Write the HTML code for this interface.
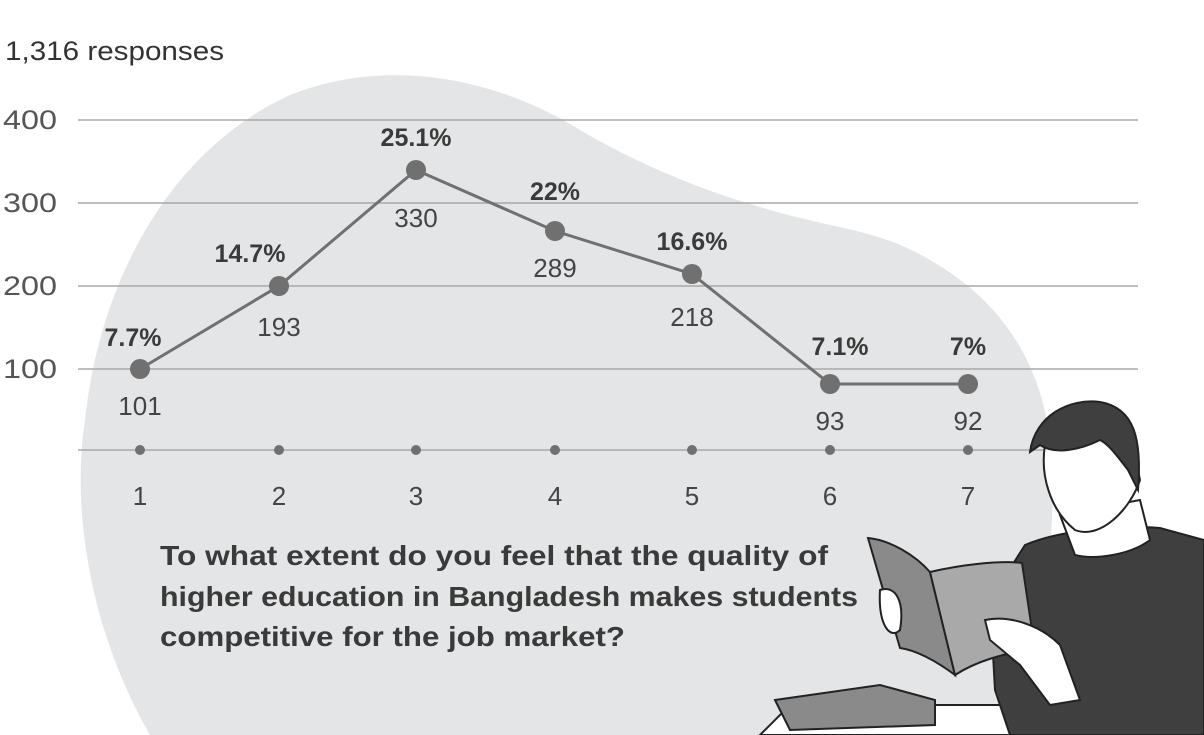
<!DOCTYPE html>
<html><head><style>
html,body{margin:0;padding:0;background:#fff;}
body{width:1204px;height:735px;overflow:hidden;position:relative;font-family:"Liberation Sans",sans-serif;}
</style></head><body>
<svg width="1204" height="735" viewBox="0 0 1204 735" xmlns="http://www.w3.org/2000/svg" style="position:absolute;left:0;top:0">
<path d="M150,735 C95,640 70,520 85,420 C100,280 170,150 290,95 C390,55 500,80 580,130 C640,165 700,190 770,210 C840,230 880,230 930,260 C1000,300 1040,360 1050,440 C1060,540 1040,640 1010,735 Z" fill="#e4e5e6"/>
<g stroke="#a8a8a8" stroke-width="1.5">
<line x1="78" y1="120" x2="1138" y2="120"/>
<line x1="78" y1="203" x2="1138" y2="203"/>
<line x1="78" y1="286" x2="1138" y2="286"/>
<line x1="78" y1="369" x2="1138" y2="369"/>
<line x1="78" y1="450" x2="1045" y2="450"/>
</g>
<g font-size="27" fill="#555">
<text x="5" y="60" fill="#333" textLength="219" lengthAdjust="spacingAndGlyphs">1,316 responses</text>
<text x="3" y="129" textLength="54" lengthAdjust="spacingAndGlyphs">400</text>
<text x="3" y="212" textLength="54" lengthAdjust="spacingAndGlyphs">300</text>
<text x="3" y="295" textLength="54" lengthAdjust="spacingAndGlyphs">200</text>
<text x="3" y="378" textLength="54" lengthAdjust="spacingAndGlyphs">100</text>
</g>
<polyline points="140,369 279,286 416,170 555,231 692,274 830,384 968,384" fill="none" stroke="#707070" stroke-width="3"/>
<g fill="#707070">
<circle cx="140" cy="369" r="10"/><circle cx="279" cy="286" r="10"/><circle cx="416" cy="170" r="10"/><circle cx="555" cy="231" r="10"/><circle cx="692" cy="274" r="10"/><circle cx="830" cy="384" r="10"/><circle cx="968" cy="384" r="10"/>
<circle cx="140" cy="450" r="5"/><circle cx="279" cy="450" r="5"/><circle cx="416" cy="450" r="5"/><circle cx="555" cy="450" r="5"/><circle cx="692" cy="450" r="5"/><circle cx="830" cy="450" r="5"/><circle cx="968" cy="450" r="5"/>
</g>
<g font-size="25" font-weight="bold" fill="#3a3a3a" text-anchor="middle">
<text x="133" y="346">7.7%</text><text x="250" y="262">14.7%</text><text x="416" y="146">25.1%</text><text x="555" y="200">22%</text><text x="692" y="250">16.6%</text><text x="840" y="355">7.1%</text><text x="968" y="355">7%</text>
</g>
<g font-size="26" fill="#444" text-anchor="middle">
<text x="140" y="415">101</text><text x="279" y="336">193</text><text x="416" y="227">330</text><text x="555" y="277">289</text><text x="692" y="326">218</text><text x="830" y="430">93</text><text x="968" y="430">92</text>
<text x="140" y="505">1</text><text x="279" y="505">2</text><text x="416" y="505">3</text><text x="555" y="505">4</text><text x="692" y="505">5</text><text x="830" y="505">6</text><text x="968" y="505">7</text>
</g>
<g font-size="28" font-weight="bold" fill="#3a3a3a">
<text x="160" y="565" textLength="668" lengthAdjust="spacingAndGlyphs">To what extent do you feel that the quality of</text>
<text x="160" y="606" textLength="698" lengthAdjust="spacingAndGlyphs">higher education in Bangladesh makes students</text>
<text x="160" y="646" textLength="465" lengthAdjust="spacingAndGlyphs">competitive for the job market?</text>
</g>
<!-- illustration -->
<path d="M760,735 L790,705 L1204,705 L1204,735 Z" fill="#fff" stroke="#222" stroke-width="2"/>
<path d="M775,700 L880,685 L935,700 L935,725 L790,730 Z" fill="#8a8a8a" stroke="#222" stroke-width="2"/>
<path d="M1025,545 C1060,530 1120,525 1160,528 L1204,540 L1204,735 L1010,735 L995,690 L990,600 Z" fill="#3f3f3f" stroke="#222" stroke-width="2"/>
<path d="M1060,515 L1075,555 C1095,560 1130,555 1150,540 L1140,500 Z" fill="#fff" stroke="#222" stroke-width="2"/>
<path d="M1045,445 C1040,475 1050,510 1075,530 C1100,540 1130,510 1140,480 L1130,430 Z" fill="#fff" stroke="#222" stroke-width="2"/>
<path d="M1030,452 C1035,415 1070,398 1100,402 C1135,408 1142,440 1138,490 L1128,470 C1120,460 1110,445 1100,440 C1080,450 1055,455 1040,445 Z" fill="#3f3f3f" stroke="#222" stroke-width="2"/>
<path d="M868,538 C890,540 915,555 930,572 L955,675 C935,660 915,650 900,648 Z" fill="#8a8a8a" stroke="#222" stroke-width="2"/>
<path d="M930,572 C960,565 1000,560 1022,563 L1035,650 C1005,652 975,662 955,675 Z" fill="#a9a9a9" stroke="#222" stroke-width="2"/>
<path d="M880,590 C895,585 905,600 900,630 C890,640 878,625 880,590 Z" fill="#fff" stroke="#222" stroke-width="2"/>
<path d="M985,620 C1010,615 1040,625 1060,645 L1080,700 L1050,705 L1020,665 L990,640 Z" fill="#fff" stroke="#222" stroke-width="2"/>
</svg>
</body></html>
